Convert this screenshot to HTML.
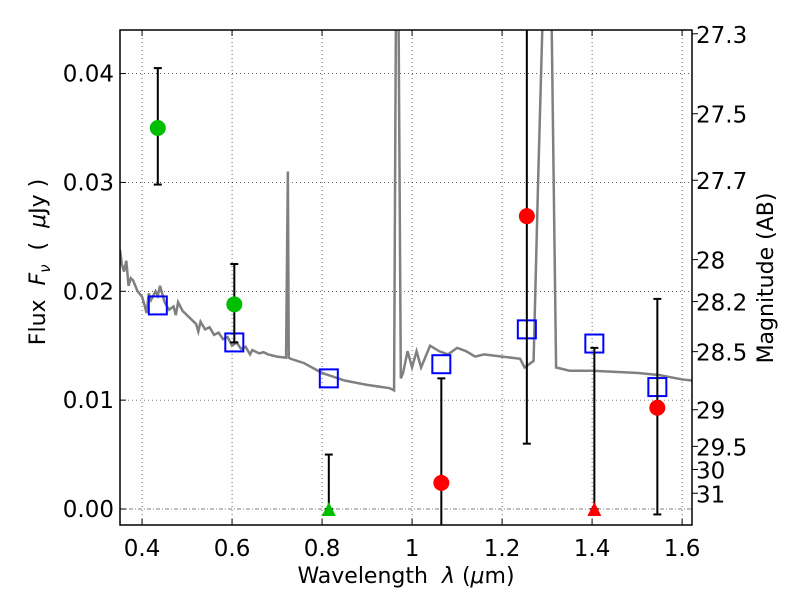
<!DOCTYPE html>
<html><head><meta charset="utf-8"><style>
html,body{margin:0;padding:0;background:#fff;}
svg text{font-family:"DejaVu Sans","Liberation Sans",sans-serif;fill:#000;}
</style></head><body>
<svg id="chart" width="800" height="600" viewBox="0 0 800 600"></svg>
<script>
const xTicks=[0.4,0.6,0.8,1.0,1.2,1.4,1.6];
const xTickLabels=["0.4","0.6","0.8","1","1.2","1.4","1.6"];
const yTicks=[0,0.01,0.02,0.03,0.04];
const yTickLabels=["0.00","0.01","0.02","0.03","0.04"];
const magTicks=[27.3,27.5,27.7,28,28.2,28.5,29,29.5,30,31];
const specLam=[0.351,0.355,0.36,0.365,0.37,0.375,0.38,0.39,0.40,0.405,0.41,0.415,0.42,0.43,0.435,0.44,0.45,0.46,0.47,0.475,0.48,0.49,0.50,0.51,0.52,0.525,0.53,0.54,0.55,0.56,0.57,0.58,0.59,0.60,0.61,0.62,0.63,0.64,0.645,0.65,0.66,0.67,0.68,0.70,0.72,0.724,0.726,0.73,0.76,0.80,0.85,0.90,0.95,0.96,0.964,0.97,0.975,0.98,0.99,1.0,1.01,1.02,1.04,1.06,1.08,1.10,1.12,1.14,1.16,1.20,1.24,1.25,1.27,1.28,1.29,1.31,1.32,1.35,1.40,1.50,1.55,1.60,1.622];
const specFlux=[0.0238,0.0225,0.0218,0.0228,0.0205,0.0212,0.0210,0.0200,0.0195,0.0188,0.0180,0.0198,0.0192,0.0200,0.0196,0.0205,0.0190,0.0183,0.0186,0.0178,0.0190,0.0182,0.0178,0.0174,0.0170,0.0163,0.0172,0.0165,0.0167,0.0160,0.0162,0.0156,0.0158,0.0150,0.0153,0.0147,0.0149,0.0142,0.0146,0.0145,0.0143,0.0144,0.0142,0.0140,0.0139,0.031,0.0139,0.0138,0.0134,0.0125,0.0118,0.0114,0.0111,0.0109,0.045,0.045,0.012,0.0125,0.0145,0.013,0.0145,0.013,0.015,0.0145,0.0142,0.0148,0.0145,0.0140,0.0142,0.0140,0.0138,0.0130,0.0136,0.030,0.045,0.045,0.013,0.0127,0.0127,0.0125,0.0123,0.0119,0.0118];
const obsLam=[0.435,0.605,1.065,1.255,1.545];
const obsFlux=[0.035,0.0188,0.0024,0.0269,0.0093];
const obsLo=[0.0298,0.0153,-0.002,0.006,-0.0005];
const obsHi=[0.0405,0.0225,0.012,0.046,0.0193];
const obsColor=["#00bf00","#00bf00","#ff0000","#ff0000","#ff0000"];
const limLam=[0.815,1.405];
const limFlux=[0,0];
const limHi=[0.005,0.0148];
const limColor=["#00bf00","#ff0000"];
const modLam=[0.435,0.605,0.815,1.065,1.255,1.405,1.545];
const modFlux=[0.0187,0.0153,0.0120,0.0133,0.0165,0.0152,0.0112];

const L=120,R=692,T=30,B=525,X0=0.351,X1=1.622,Y0=-0.00147,Y1=0.0440;
const sx=v=>L+(v-X0)/(X1-X0)*(R-L);
const sy=v=>B-(v-Y0)/(Y1-Y0)*(B-T);
const svg=document.getElementById('chart');
const NS='http://www.w3.org/2000/svg';
function mk(tag,attrs,parent){const e=document.createElementNS(NS,tag);for(const k in attrs)e.setAttribute(k,attrs[k]);(parent||svg).appendChild(e);return e;}
const clip=mk('clipPath',{id:'pc'});mk('rect',{x:L,y:T,width:R-L,height:B-T},clip);
const plot=mk('g',{'clip-path':'url(#pc)'});


xTicks.forEach(v=>{const l=mk('line',{x1:sx(v),x2:sx(v),y1:T,y2:B,stroke:'#000','stroke-width':0.6,'stroke-dasharray':'1,3'},plot);
});
yTicks.forEach(v=>{const l=mk('line',{x1:L,x2:R,y1:sy(v),y2:sy(v),stroke:'#000','stroke-width':0.6,'stroke-dasharray':v===0?'4,2,1,2':'1,3'},plot);
});
const sp=mk('polyline',{points:specLam.map((l,i)=>sx(l)+','+sy(specFlux[i])).join(' '),fill:'none',stroke:'#808080','stroke-width':2.5},plot);

modLam.forEach((l,i)=>{const r=mk('rect',{x:sx(l)-9,y:sy(modFlux[i])-9,width:18,height:18,fill:'none',stroke:'#0000ff','stroke-width':2},plot);
});
obsLam.forEach((l,i)=>{const g=mk('g',{},plot);
const x=sx(l);mk('line',{x1:x,x2:x,y1:sy(obsLo[i]),y2:sy(obsHi[i]),stroke:'#000','stroke-width':2},g);
[obsLo[i],obsHi[i]].forEach(v=>mk('line',{x1:x-4,x2:x+4,y1:sy(v),y2:sy(v),stroke:'#000','stroke-width':2},g));
mk('circle',{cx:x,cy:sy(obsFlux[i]),r:8,fill:obsColor[i]},g);});
limLam.forEach((l,i)=>{const g=mk('g',{},plot);
const x=sx(l),y=sy(limFlux[i]);mk('line',{x1:x,x2:x,y1:y,y2:sy(limHi[i]),stroke:'#000','stroke-width':2},g);
[limFlux[i],limHi[i]].forEach(v=>mk('line',{x1:x-4,x2:x+4,y1:sy(v),y2:sy(v),stroke:'#000','stroke-width':2},g));
mk('polygon',{points:`${x-7},${y+7} ${x+7},${y+7} ${x},${y-7}`,fill:limColor[i]},g);});
const fr=mk('rect',{x:L,y:T,width:R-L,height:B-T,fill:'none',stroke:'#000','stroke-width':1.5});

xTicks.forEach((v,i)=>{mk('line',{x1:sx(v),x2:sx(v),y1:B,y2:B-6,stroke:'#000'});mk('line',{x1:sx(v),x2:sx(v),y1:T,y2:T+6,stroke:'#000'});
const t=mk('text',{x:sx(v),y:B+31,'font-size':23,'text-anchor':'middle'});t.textContent=xTickLabels[i];
});
yTicks.forEach((v,i)=>{mk('line',{x1:L,x2:L+6,y1:sy(v),y2:sy(v),stroke:'#000'});
const t=mk('text',{x:L-6,y:sy(v)+8,'font-size':23,'text-anchor':'end'});t.textContent=yTickLabels[i];
});
magTicks.forEach(m=>{const f=Math.pow(10,(23.9-m)/2.5);const y=sy(f);
mk('line',{x1:R,x2:R+6,y1:y,y2:y,stroke:'#000'});
const t=mk('text',{x:R+4,y:y+9,'font-size':23});t.textContent=String(m);
});
</script>
<svg width="800" height="600" style="position:absolute;left:0;top:0">
<text x="406" y="583" font-size="22" text-anchor="middle" font-family="DejaVu Sans, sans-serif" xml:space="preserve" style="white-space:pre">Wavelength  <tspan font-style="italic">λ</tspan> (<tspan font-style="italic">μ</tspan>m)</text>
<text transform="translate(45,262) rotate(-90)" font-size="22" text-anchor="middle" font-family="DejaVu Sans, sans-serif" xml:space="preserve" style="white-space:pre">Flux  <tspan font-style="italic">F</tspan><tspan font-style="italic" font-size="15" dy="5">ν</tspan><tspan dy="-5">  (  </tspan><tspan font-style="italic">μ</tspan>Jy )</text>
<text transform="translate(773,278) rotate(-90)" font-size="22" text-anchor="middle" font-family="DejaVu Sans, sans-serif">Magnitude (AB)</text>
</svg>
</body></html>
